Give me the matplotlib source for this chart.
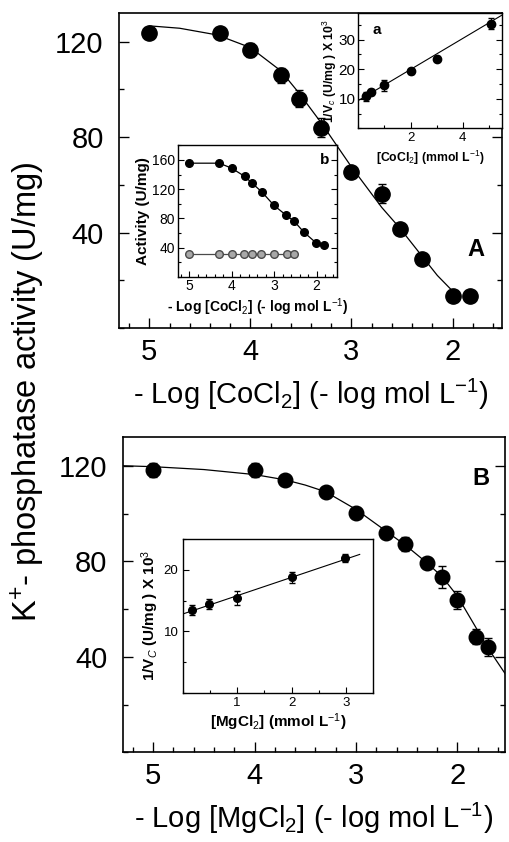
import matplotlib
matplotlib.use('Agg')
from matplotlib import pyplot as plt
from matplotlib.ticker import MultipleLocator

plt.rcParams['font.family'] = ['Liberation Sans', 'DejaVu Sans']
plt.rcParams['mathtext.fontset'] = 'custom'
plt.rcParams['mathtext.rm'] = 'Liberation Sans'
plt.rcParams['mathtext.it'] = 'Liberation Sans:italic'
plt.rcParams['mathtext.bf'] = 'Liberation Sans:bold'

# Panel A : CoCl2
co_x = [5.0, 4.3, 4.0, 3.7, 3.52, 3.3, 3.0, 2.7, 2.52, 2.3, 2.0, 1.83]
co_y = [123.4, 123.8, 116.5, 105.8, 96.1, 84.0, 65.5, 56.2, 41.6, 29.0, 13.5, 13.5]
co_err = [1.5, 1.5, 2.8, 3.0, 3.5, 3.8, 2.0, 4.0, 2.0, 1.5, 1.0, 1.0]
co_fit_x = [5.0, 4.7, 4.33, 4.0, 3.7, 3.52, 3.3, 3.0, 2.7, 2.52, 2.3, 2.15, 2.0]
co_fit_y = [126.6, 125.6, 122.8, 117.5, 107.8, 98.5, 86.0, 67.5, 50.5, 41.8, 30.0, 22.0, 15.5]

# inset a : double reciprocal vs [CoCl2]
a_x = [0.3, 0.5, 1.0, 2.0, 3.0, 5.07]
a_y = [10.9, 12.4, 14.5, 19.3, 23.5, 35.4]
a_err = [1.5, 1.0, 1.9, 0.8, 0.8, 1.9]
a_fit_x = [0.0, 5.5]
a_fit_y = [9.4, 38.3]

# inset b : activity vs -log[CoCl2]
b_x = [5.0, 4.29, 4.0, 3.69, 3.52, 3.28, 3.0, 2.71, 2.53, 2.3, 2.02, 1.83]
b_y = [155.6, 155.6, 148.8, 137.4, 128.4, 115.7, 97.6, 84.0, 76.2, 61.2, 46.8, 43.1]
b_grey_x = [5.0, 4.3, 4.0, 3.7, 3.52, 3.3, 3.0, 2.7, 2.52]
b_grey_y = [30.9, 30.9, 30.9, 30.9, 30.9, 30.9, 30.9, 30.9, 30.9]

# Panel B : MgCl2
mg_x = [5.0, 4.0, 3.7, 3.3, 3.0, 2.7, 2.52, 2.3, 2.15, 2.0, 1.82, 1.7]
mg_y = [118.3, 118.3, 114.1, 109.0, 100.2, 92.1, 87.2, 79.5, 73.4, 63.7, 48.5, 44.2]
mg_err = [2.9, 2.8, 1.5, 1.5, 1.5, 1.5, 3.0, 1.5, 4.5, 3.7, 3.0, 3.7]
mg_fit_x = [5.3, 5.0, 4.5, 4.0, 3.7, 3.5, 3.3, 3.0, 2.7, 2.5, 2.3, 2.15, 2.0, 1.82, 1.7, 1.52]
mg_fit_y = [120.1, 119.7, 118.5, 116.4, 114.2, 112.0, 109.2, 101.8, 92.6, 86.4, 79.4, 73.6, 65.5, 52.5, 43.8, 32.4]

# inset : double reciprocal vs [MgCl2]
m_x = [0.18, 0.49, 1.0, 2.0, 2.98]
m_y = [13.5, 14.4, 15.4, 18.8, 21.9]
m_err = [0.8, 0.8, 1.2, 0.9, 0.7]
m_fit_x = [0.0, 3.25]
m_fit_y = [12.8, 22.5]


def style(ax, size, major=7, minor=3.5, lw=1.2, right=True):
    for s in ax.spines.values():
        s.set_linewidth(lw)
    ax.tick_params(which='both', direction='in', right=right, top=False, width=lw * 0.8)
    ax.tick_params(which='major', length=major, labelsize=size)
    ax.tick_params(which='minor', length=minor)


fig = plt.figure(figsize=(5.09, 8.42), dpi=100)

# ---- main A
axA = fig.add_axes([0.2338, 0.6105, 0.7525, 0.3741])
axA.errorbar(co_x, co_y, yerr=co_err, fmt='o', color='black', ms=11, capsize=3, elinewidth=1, zorder=3)
axA.plot(co_fit_x, co_fit_y, color='black', lw=0.9)
axA.set_xlim(5.3, 1.51)
axA.set_ylim(0, 132)
axA.set_xticks([5, 4, 3, 2])
axA.set_yticks([40, 80, 120])
axA.xaxis.set_minor_locator(MultipleLocator(0.2))
axA.yaxis.set_minor_locator(MultipleLocator(20))
style(axA, 21)
axA.tick_params(axis='x', pad=7)
axA.tick_params(axis='y', pad=11)
axA.set_xlabel(r'- Log [CoCl$_2$] (- log mol L$^{-1}$)', fontsize=21, labelpad=8)
axA.text(0.955, 0.248, 'A', transform=axA.transAxes, fontsize=17, fontweight='bold', ha='right', va='center')

# ---- inset a
ia = fig.add_axes([0.7039, 0.8476, 0.2823, 0.1369])
ia.errorbar(a_x, a_y, yerr=a_err, fmt='o', color='black', ms=6, capsize=2, elinewidth=0.8, zorder=3)
ia.plot(a_fit_x, a_fit_y, color='black', lw=0.8)
ia.set_xlim(0, 5.5)
ia.set_ylim(0, 39)
ia.set_xticks([2, 4])
ia.set_yticks([10, 20, 30])
ia.xaxis.set_minor_locator(MultipleLocator(1))
ia.yaxis.set_minor_locator(MultipleLocator(5))
style(ia, 11, major=4, minor=2, lw=1.0)
ia.tick_params(axis='x', labelsize=9.5, pad=3)
ia.tick_params(axis='y', pad=2)
ia.set_xlabel(r'[CoCl$_2$] (mmol L$^{-1}$)', fontsize=8.8, fontweight='bold', labelpad=3)
ia.set_ylabel(r'1/V$_c$ (U/mg ) X 10$^3$', fontsize=8.8, fontweight='bold', labelpad=0)
ia.text(0.1, 0.85, 'a', transform=ia.transAxes, fontsize=11, fontweight='bold', ha='left', va='center')

# ---- inset b
ib = fig.add_axes([0.3491, 0.6714, 0.3136, 0.1568])
ib.plot(b_x, b_y, '-o', color='black', ms=5.5, lw=0.9, zorder=3)
ib.plot(b_grey_x, b_grey_y, '-o', color='#4a4a4a', mfc='#a8a8a8', mec='#4a4a4a', ms=5.5, lw=0.9, zorder=3)
ib.set_xlim(5.27, 1.51)
ib.set_ylim(0, 181)
ib.set_xticks([5, 4, 3, 2])
ib.set_yticks([40, 80, 120, 160])
ib.xaxis.set_minor_locator(MultipleLocator(0.2))
ib.yaxis.set_minor_locator(MultipleLocator(20))
style(ib, 10, major=4, minor=2, lw=1.0)
ib.tick_params(pad=2)
ib.set_xlabel(r'- Log [CoCl$_2$] (- log mol L$^{-1}$)', fontsize=10, fontweight='bold', labelpad=2)
ib.set_ylabel('Activity (U/mg)', fontsize=11, fontweight='bold', labelpad=1)
ib.text(0.92, 0.88, 'b', transform=ib.transAxes, fontsize=11, fontweight='bold', ha='center', va='center')

# ---- main B
axB = fig.add_axes([0.2411, 0.1065, 0.7511, 0.3741])
axB.errorbar(mg_x, mg_y, yerr=mg_err, fmt='o', color='black', ms=10.5, capsize=3, elinewidth=1, zorder=3)
axB.plot(mg_fit_x, mg_fit_y, color='black', lw=0.9)
axB.set_xlim(5.3, 1.53)
axB.set_ylim(0, 132)
axB.set_xticks([5, 4, 3, 2])
axB.set_yticks([40, 80, 120])
axB.xaxis.set_minor_locator(MultipleLocator(0.2))
axB.yaxis.set_minor_locator(MultipleLocator(20))
style(axB, 21)
axB.tick_params(axis='x', pad=7)
axB.tick_params(axis='y', pad=11)
axB.set_xlabel(r'- Log [MgCl$_2$] (- log mol L$^{-1}$)', fontsize=21, labelpad=8)
axB.text(0.96, 0.87, 'B', transform=axB.transAxes, fontsize=17, fontweight='bold', ha='right', va='center')

# ---- inset Mg
im = fig.add_axes([0.3589, 0.1773, 0.3745, 0.1825])
im.errorbar(m_x, m_y, yerr=m_err, fmt='o', color='black', ms=5.5, capsize=2, elinewidth=0.8, zorder=3)
im.plot(m_fit_x, m_fit_y, color='black', lw=0.8)
im.set_xlim(0, 3.5)
im.set_ylim(0, 25)
im.set_xticks([1, 2, 3])
im.set_yticks([10, 20])
im.xaxis.set_minor_locator(MultipleLocator(0.5))
im.yaxis.set_minor_locator(MultipleLocator(5))
style(im, 9.5, major=4, minor=2, lw=1.0, right=False)
im.tick_params(pad=3)
im.set_xlabel(r'[MgCl$_2$] (mmol L$^{-1}$)', fontsize=11, fontweight='bold', labelpad=2)
im.set_ylabel(r'1/V$_C$ (U/mg ) X 10$^3$', fontsize=11, fontweight='bold', labelpad=2)

fig.text(0.055, 0.535, r'K$^{+}$- phosphatase activity (U/mg)', rotation=90, fontsize=23.5, ha='center', va='center')

fig.savefig('out.png', dpi=100)
